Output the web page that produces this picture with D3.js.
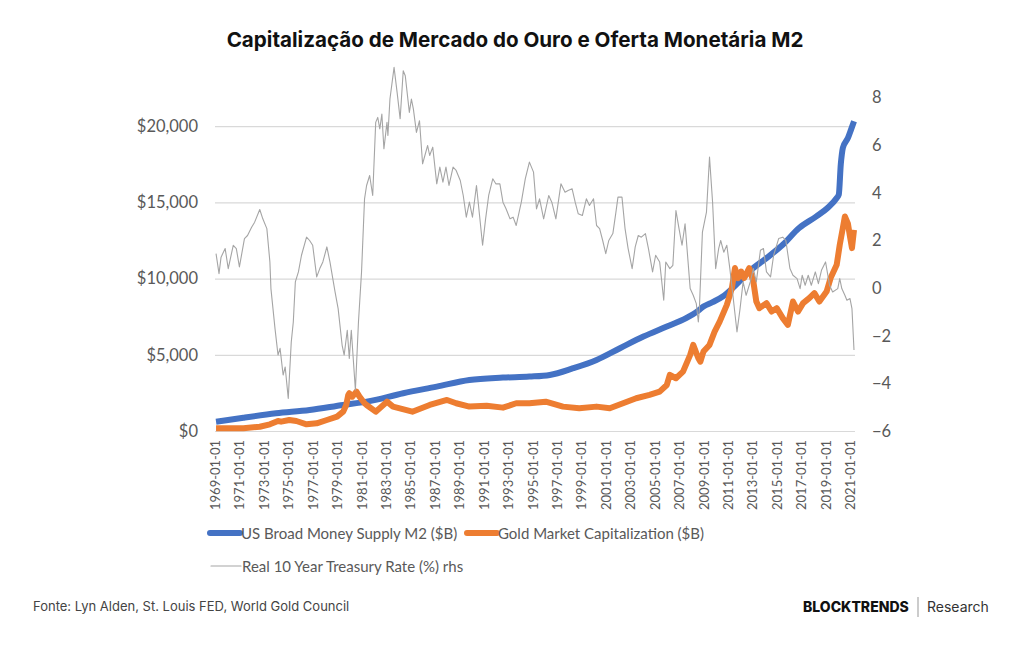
<!DOCTYPE html>
<html>
<head>
<meta charset="utf-8">
<script src="https://cdn.jsdelivr.net/npm/d3@7"></script>
<style>
body { margin: 0; background: #fff; }
.tick-lbl { font-family: Lato, "Liberation Sans", sans-serif; fill: #595959; }
</style>
</head>
<body>
<div id="chart"></div>
<script>
// values (month, value)
var m2 = [
  ["1969-02", 611], ["1971-05", 875], ["1974-01", 1160], ["1976-10", 1380], ["1979-07", 1710],
  ["1981-06", 1925], ["1984-06", 2477], ["1987-03", 2913], ["1989-11", 3350], ["1992-08", 3503],
  ["1994-10", 3570], ["1996-06", 3680], ["1998-05", 4120], ["2000-04", 4665], ["2002-03", 5433],
  ["2004-02", 6195], ["2006-01", 6852], ["2007-08", 7404], ["2008-08", 7900], ["2009-01", 8166],
  ["2009-10", 8455], ["2010-08", 8823], ["2011-09", 9592], ["2012-10", 10466], ["2014-03", 11346],
  ["2015-07", 12220], ["2016-11", 13317], ["2018-04", 14080], ["2019-03", 14630], ["2019-12", 15290],
  ["2020-02", 15505], ["2020-04", 17500], ["2020-05", 18133], ["2020-06", 18573], ["2020-11", 19230],
  ["2021-02", 19776], ["2021-05", 20320]
];

var gold = [
  ["1969-02", 175], ["1971-05", 175], ["1972-09", 280], ["1973-07", 440], ["1974-03", 657],
  ["1974-06", 611], ["1975-02", 723], ["1975-09", 657], ["1976-07", 440], ["1977-05", 506],
  ["1978-03", 723], ["1979-01", 940], ["1979-07", 1268], ["1979-10", 1700], ["1979-12", 2365],
  ["1980-01", 2477], ["1980-04", 2253], ["1980-08", 2582], ["1980-11", 2253], ["1981-04", 1820],
  ["1981-06", 1708], ["1982-03", 1270], ["1983-02", 1925], ["1983-08", 1600], ["1985-03", 1268],
  ["1986-08", 1708], ["1988-01", 2037], ["1988-10", 1820], ["1989-11", 1600], ["1991-04", 1650],
  ["1992-08", 1533], ["1993-09", 1820], ["1994-10", 1820], ["1996-02", 1925], ["1997-07", 1600],
  ["1998-11", 1490], ["2000-04", 1600], ["2001-05", 1490], ["2002-06", 1820], ["2003-07", 2148],
  ["2004-08", 2365], ["2005-06", 2582], ["2006-01", 3022], ["2006-04", 3680], ["2006-10", 3462],
  ["2007-05", 3896], ["2007-12", 4993], ["2008-03", 5650], ["2008-08", 4776], ["2008-10", 4553],
  ["2009-01", 5210], ["2009-07", 5650], ["2009-12", 6524], ["2010-05", 7181], ["2010-12", 8278],
  ["2011-05", 9375], ["2011-08", 10690], ["2011-11", 10032], ["2012-02", 10466], ["2012-05", 10032],
  ["2012-10", 10690], ["2013-02", 9810], ["2013-05", 8495], ["2013-08", 8060], ["2014-03", 8390],
  ["2014-08", 7838], ["2015-01", 8060], ["2015-07", 7404], ["2015-12", 6964], ["2016-05", 8495],
  ["2016-10", 7838], ["2017-03", 8390], ["2017-09", 8718], ["2018-02", 9047], ["2018-07", 8495],
  ["2019-02", 9152], ["2019-06", 10032], ["2019-12", 10906], ["2020-03", 12220], ["2020-06", 13317],
  ["2020-08", 14080], ["2020-11", 13600], ["2021-01", 12766], ["2021-03", 12000], ["2021-05", 13200]
];

var realRate = [
  ["1969-02", 1.45], ["1969-05", 0.61], ["1969-07", 1.30], ["1969-11", 1.66], ["1970-02", 0.82],
  ["1970-07", 1.80], ["1970-10", 1.66], ["1971-01", 0.89], ["1971-06", 2.08], ["1971-09", 2.21],
  ["1972-01", 2.56], ["1972-04", 2.77], ["1972-09", 3.30], ["1972-12", 2.91], ["1973-04", 2.50],
  ["1973-07", 1.10], ["1973-08", -0.02], ["1973-12", -1.70], ["1974-03", -2.81], ["1974-05", -2.53],
  ["1974-08", -3.65], ["1974-10", -3.31], ["1975-01", -4.63], ["1975-04", -2.26], ["1975-06", -1.42],
  ["1975-08", 0.26], ["1975-11", 0.68], ["1976-02", 1.38], ["1976-07", 2.14], ["1976-10", 2.0],
  ["1977-01", 1.80], ["1977-05", 0.47], ["1977-08", 0.82], ["1977-11", 1.10], ["1978-03", 1.73],
  ["1978-06", 1.10], ["1978-11", -0.16], ["1979-02", -0.86], ["1979-06", -2.40], ["1979-08", -2.81],
  ["1979-11", -1.77], ["1980-01", -2.95], ["1980-03", -1.77], ["1980-07", -4.28], ["1980-10", -1.42],
  ["1981-01", 0.68], ["1981-04", 3.75], ["1981-06", 4.31], ["1981-09", 4.73], ["1981-12", 3.89],
  ["1982-03", 6.96], ["1982-05", 7.17], ["1982-07", 6.69], ["1982-09", 7.31], ["1982-11", 5.85],
  ["1983-02", 6.96], ["1983-03", 6.41], ["1983-05", 7.94], ["1983-09", 9.27], ["1983-12", 8.22],
  ["1984-03", 7.11], ["1984-06", 9.13], ["1984-08", 8.92], ["1984-12", 7.38], ["1985-02", 7.94],
  ["1985-04", 7.52], ["1985-07", 6.54], ["1985-10", 7.03], ["1986-01", 5.22], ["1986-06", 5.99],
  ["1986-08", 5.57], ["1986-11", 5.92], ["1987-03", 4.38], ["1987-06", 5.08], ["1987-09", 4.45],
  ["1987-12", 5.08], ["1988-03", 4.31], ["1988-07", 5.08], ["1988-10", 4.94], ["1989-02", 4.52],
  ["1989-05", 3.89], ["1989-08", 2.98], ["1989-11", 3.61], ["1990-02", 2.98], ["1990-06", 4.31],
  ["1990-09", 3.05], ["1990-12", 1.80], ["1991-03", 2.91], ["1991-06", 3.89], ["1991-10", 4.59],
  ["1992-01", 4.38], ["1992-05", 4.38], ["1992-08", 3.61], ["1992-11", 3.33], ["1993-03", 2.91],
  ["1993-06", 2.98], ["1993-09", 2.63], ["1994-02", 3.61], ["1994-06", 4.60], ["1994-10", 5.29],
  ["1995-02", 4.87], ["1995-05", 3.33], ["1995-08", 3.75], ["1995-12", 2.91], ["1996-05", 3.89],
  ["1996-08", 3.61], ["1996-12", 2.91], ["1997-05", 4.38], ["1997-09", 4.03], ["1997-12", 4.10],
  ["1998-04", 4.17], ["1998-07", 3.61], ["1998-10", 3.12], ["1999-02", 3.05], ["1999-06", 3.75],
  ["1999-09", 3.47], ["2000-01", 3.75], ["2000-04", 2.63], ["2000-07", 2.50], ["2000-10", 2.0],
  ["2001-01", 1.45], ["2001-04", 2.0], ["2001-08", 2.29], ["2001-11", 3.19], ["2002-01", 3.82],
  ["2002-05", 3.82], ["2002-08", 2.50], ["2002-11", 1.66], ["2003-03", 0.82], ["2003-06", 1.73],
  ["2003-09", 2.21], ["2003-12", 2.14], ["2004-04", 2.29], ["2004-07", 1.66], ["2004-11", 0.68],
  ["2005-02", 1.38], ["2005-06", 1.10], ["2005-10", -0.51], ["2005-12", 1.10], ["2006-04", 0.82],
  ["2006-07", 0.96], ["2006-10", 3.26], ["2007-01", 2.50], ["2007-04", 1.80], ["2007-07", 2.70],
  ["2007-12", -0.02], ["2008-03", -0.30], ["2008-06", -0.65], ["2008-08", -1.42], ["2008-09", -0.86],
  ["2008-12", 2.35], ["2009-04", 3.19], ["2009-07", 5.50], ["2009-10", 3.61], ["2010-01", 0.82],
  ["2010-04", 1.66], ["2010-06", 2.0], ["2010-09", 1.51], ["2010-12", 1.80], ["2011-03", 0.82],
  ["2011-06", -0.30], ["2011-10", -1.84], ["2012-01", -0.86], ["2012-04", 0.26], ["2012-07", -0.30],
  ["2012-11", 0.26], ["2013-02", 0.82], ["2013-05", 0.26], ["2013-09", 1.59], ["2013-12", 1.66],
  ["2014-03", 0.68], ["2014-07", 0.47], ["2014-10", 1.38], ["2015-03", 2.08], ["2015-07", 2.14],
  ["2015-10", 2.0], ["2016-02", 0.82], ["2016-05", 0.54], ["2016-09", 0.40], ["2016-12", -0.02],
  ["2017-02", 0.54], ["2017-05", 0.12], ["2017-08", 0.54], ["2017-11", 0.12], ["2018-03", 0.68],
  ["2018-06", 0.19], ["2018-09", 0.75], ["2019-01", 1.10], ["2019-05", 0.12], ["2019-08", -0.16],
  ["2020-01", -0.02], ["2020-03", 0.40], ["2020-05", -0.02], ["2020-08", -0.30], ["2020-10", -0.51],
  ["2021-01", -0.44], ["2021-03", -0.86], ["2021-05", -2.60]
];

var dateTicks = ["1969-01-01", "1971-01-01", "1973-01-01", "1975-01-01", "1977-01-01", "1979-01-01",
  "1981-01-01", "1983-01-01", "1985-01-01", "1987-01-01", "1989-01-01", "1991-01-01", "1993-01-01",
  "1995-01-01", "1997-01-01", "1999-01-01", "2001-01-01", "2003-01-01", "2005-01-01", "2007-01-01",
  "2009-01-01", "2011-01-01", "2013-01-01", "2015-01-01", "2017-01-01", "2019-01-01", "2021-01-01"];
var leftTicks = [0, 5000, 10000, 15000, 20000];
var rightTicks = [-6, -4, -2, 0, 2, 4, 6, 8];
var legendNames = ["US Broad Money Supply M2 ($B)", "Gold Market Capitalization ($B)", "Real 10 Year Treasury Rate (%) rhs"];

var width = 1024, height = 645;
var svg = d3.select("#chart").append("svg").attr("width", width).attr("height", height);

var parseM = d3.timeParse("%Y-%m"), parseD = d3.timeParse("%Y-%m-%d");
var x = d3.scaleTime().domain([parseD("1969-01-01"), parseD("2021-05-01")]).range([215, 854]);
var yL = d3.scaleLinear().domain([0, 25000]).range([431, 50]);
var yR = d3.scaleLinear().domain([-6, 10]).range([431, 50]);

// title
svg.append("text").attr("x", 515).attr("y", 47).attr("text-anchor", "middle")
  .style("font-family", "Inter, sans-serif").style("font-weight", 700).style("font-size", "20.6px")
  .style("fill", "#111").text("Capitalização de Mercado do Ouro e Oferta Monetária M2");

// gridlines + left axis
var gl = d3.axisLeft(yL).tickValues(leftTicks).tickSize(-640).tickFormat(function(d){ return "$" + d3.format(",")(d); });
var gAx = svg.append("g").attr("transform", "translate(215,0)").call(gl);
gAx.select(".domain").remove();
gAx.selectAll("line").attr("stroke", "#d9d9d9").attr("stroke-width", 1.2);
gAx.selectAll("text").attr("class", "tick-lbl").attr("x", -17).style("font-size", "16.5px");

var rAx = svg.append("g").attr("transform", "translate(855,0)").call(d3.axisRight(yR).tickValues(rightTicks).tickSize(0));
rAx.select(".domain").remove();
rAx.selectAll("text").attr("class", "tick-lbl").attr("x", 17).style("font-size", "16.5px");

var xAx = svg.append("g").attr("transform", "translate(0,431)")
  .call(d3.axisBottom(x).tickValues(dateTicks.map(parseD)).tickSize(0).tickFormat(d3.timeFormat("%Y-%m-%d")));
xAx.select(".domain").remove();
xAx.selectAll("text").attr("class", "tick-lbl").style("font-size", "13px")
  .attr("transform", "rotate(-90)").attr("text-anchor", "end").attr("x", -9).attr("y", 0).attr("dy", "0.35em");

// series
var lineM2 = d3.line().x(function(d){ return x(parseM(d[0])); }).y(function(d){ return yL(d[1]); }).curve(d3.curveMonotoneX);
var lineGold = d3.line().x(function(d){ return x(parseM(d[0])); }).y(function(d){ return yL(d[1]); });
var lineR = d3.line().x(function(d){ return x(parseM(d[0])); }).y(function(d){ return yR(d[1]); });

svg.append("path").datum(m2).attr("d", lineM2).attr("fill", "none").attr("stroke", "#4472c4")
  .attr("stroke-width", 6).attr("stroke-linejoin", "round");
svg.append("path").datum(gold).attr("d", lineGold).attr("fill", "none").attr("stroke", "#ed7d31")
  .attr("stroke-width", 6).attr("stroke-linejoin", "round");
svg.append("path").datum(realRate).attr("d", lineR).attr("fill", "none").attr("stroke", "#a5a5a5")
  .attr("stroke-width", 1.1).attr("stroke-linejoin", "round");

// legend
var leg = [
  {name: legendNames[0], c: "#4472c4", w: 6, x: 210, y: 533},
  {name: legendNames[1], c: "#ed7d31", w: 6, x: 467, y: 533},
  {name: legendNames[2], c: "#a5a5a5", w: 1.1, x: 211, y: 566}
];
leg.forEach(function(l){
  svg.append("line").attr("x1", l.x).attr("x2", l.x + 30).attr("y1", l.y).attr("y2", l.y)
    .attr("stroke", l.c).attr("stroke-width", l.w).attr("stroke-linecap", "round");
  svg.append("text").attr("class", "tick-lbl").attr("x", l.x + 31).attr("y", l.y + 5.5)
    .style("font-size", "15px").text(l.name);
});

// footer
svg.append("text").attr("x", 33).attr("y", 611).style("font-family", "Inter, sans-serif")
  .style("font-size", "13px").style("fill", "#444").text("Fonte: Lyn Alden, St. Louis FED, World Gold Council");
svg.append("text").attr("x", 803).attr("y", 612).style("font-family", "Inter, sans-serif").style("font-weight", 800)
  .style("font-size", "14px").style("fill", "#111").text("BLOCKTRENDS");
svg.append("line").attr("x1", 918).attr("x2", 918).attr("y1", 597).attr("y2", 617).attr("stroke", "#999").attr("stroke-width", 1);
svg.append("text").attr("x", 927).attr("y", 612).style("font-family", "Inter, sans-serif")
  .style("font-size", "14px").style("fill", "#333").text("Research");
</script>
</body>
</html>
